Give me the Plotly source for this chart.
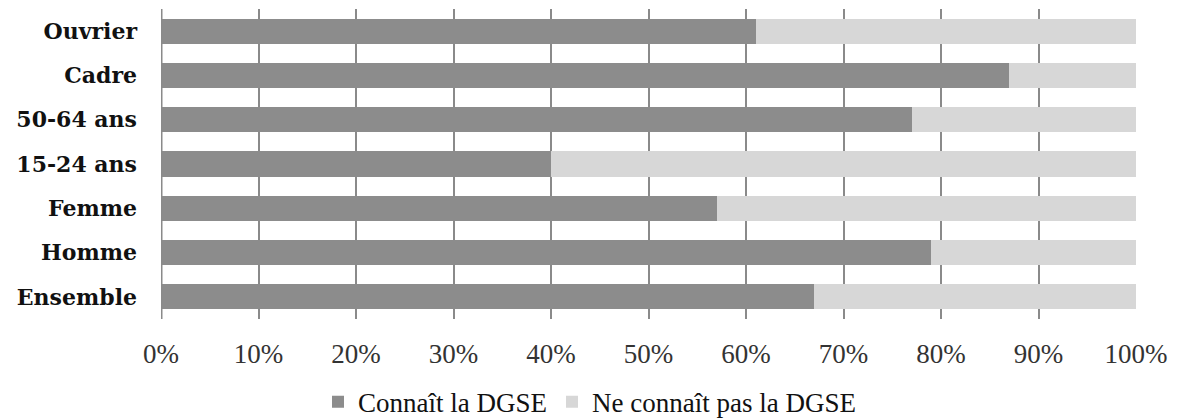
import plotly.graph_objects as go

categories = ["Ensemble", "Homme", "Femme", "15-24 ans", "50-64 ans", "Cadre", "Ouvrier"]
connait = [67, 79, 57, 40, 77, 87, 61]
ne_connait_pas = [33, 21, 43, 60, 23, 13, 39]
series_names = ["Connaît la DGSE", "Ne connaît pas la DGSE"]
tick_vals = [0, 10, 20, 30, 40, 50, 60, 70, 80, 90, 100]
tick_text = [f"{v}%" for v in tick_vals]

FONT = "Liberation Serif"
BOLD_FONT = "DejaVu Serif"

fig = go.Figure()
fig.add_trace(go.Bar(
    y=categories, x=connait, orientation="h", name=series_names[0],
    marker=dict(color="#8c8c8c", line=dict(width=0)),
))
fig.add_trace(go.Bar(
    y=categories, x=ne_connait_pas, orientation="h", name=series_names[1],
    marker=dict(color="#d7d7d7", line=dict(width=0)),
))

fig.update_layout(
    barmode="stack",
    bargap=0.43,
    width=1179, height=418,
    margin=dict(l=161, r=43, t=9, b=99, autoexpand=False),
    paper_bgcolor="white", plot_bgcolor="white",
    font=dict(family=FONT, size=26, color="#111111"),
    showlegend=True,
    legend=dict(
        orientation="h", x=0.5, xref="container", xanchor="center",
        y=-0.268, yref="paper", yanchor="middle",
        font=dict(family=FONT, size=27, color="#111111"),
        traceorder="normal", itemwidth=30,
    ),
    xaxis=dict(
        range=[0, 100], tickvals=tick_vals, ticktext=tick_text,
        showgrid=True, gridcolor="#8a8a8a", gridwidth=2,
        zeroline=False, showline=False, ticks="",
        tickfont=dict(family=FONT, size=27, color="#333333"),
        ticklabelstandoff=16, automargin=False,
    ),
    yaxis=dict(
        showgrid=False, zeroline=False, ticks="",
        tickfont=dict(family=BOLD_FONT, size=22, color="#111111", weight="bold"),
        ticklabelstandoff=23, automargin=False,
    ),
    shapes=[dict(type="line", xref="x", yref="paper", x0=0, x1=0, y0=0, y1=1,
                 line=dict(color="#8a8a8a", width=3), layer="above")],
)

fig.write_html("out.html")
